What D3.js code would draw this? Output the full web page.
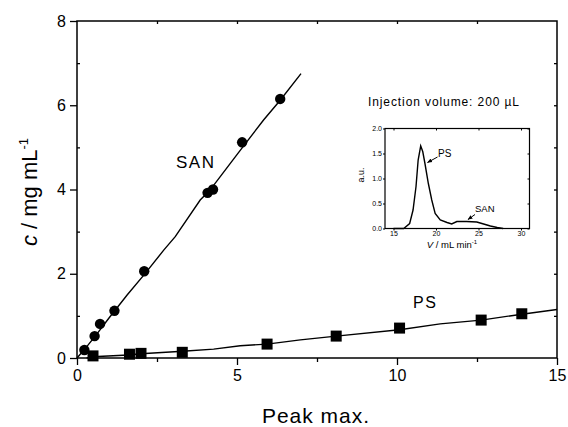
<!DOCTYPE html>
<html><head><meta charset="utf-8">
<script src="https://cdn.jsdelivr.net/npm/d3@7"></script>
<style>
body{margin:0;background:#fff;}
text{font-family:"Liberation Sans",Arial,sans-serif;fill:#000;}
</style></head>
<body><svg id="c" width="568" height="427"></svg>
<script>
// ---- data ----
const sanX = [0.23, 0.55, 0.72, 1.17, 2.1, 4.08, 4.25, 5.16, 6.35];
const sanY = [0.19, 0.52, 0.81, 1.12, 2.06, 3.92, 4.0, 5.12, 6.15];
const sanFitX = [0, 0.23, 0.6, 1.0, 1.56, 2.1, 2.71, 3.07, 3.85, 4.15, 5.1, 5.83, 6.35, 7.0];
const sanFitY = [0, 0.2, 0.55, 0.95, 1.49, 1.98, 2.56, 2.88, 3.75, 3.98, 4.93, 5.65, 6.12, 6.75];
const psX = [0.5, 1.64, 2.0, 3.29, 5.94, 8.1, 10.08, 12.63, 13.9];
const psY = [0.05, 0.09, 0.11, 0.135, 0.33, 0.52, 0.71, 0.90, 1.05];
const psFitX = [0.3, 0.5, 1.6, 2.0, 3.3, 4.27, 5.1, 5.94, 6.98, 8.1, 10.08, 11.35, 12.63, 13.9, 15];
const psFitY = [0, 0.03, 0.07, 0.1, 0.16, 0.21, 0.29, 0.33, 0.43, 0.52, 0.67, 0.81, 0.90, 1.04, 1.15];
const insetX = [15, 16.2, 16.9, 17.3, 17.65, 17.9, 18.2, 18.44, 18.7, 19.1, 19.5, 19.9, 20.5, 21.3, 21.85, 22.45, 23.6, 24.8, 25.6, 26.4, 27.2, 27.9];
const insetY = [0, 0, 0.1, 0.37, 0.84, 1.37, 1.65, 1.54, 1.3, 0.9, 0.57, 0.3, 0.17, 0.12, 0.09, 0.14, 0.14, 0.13, 0.09, 0.05, 0.02, 0];
const xTicks = [0, 5, 10, 15];
const yTicks = [0, 2, 4, 6, 8];
const insetXTicks = [15, 20, 25, 30];
const insetYTicks = [0, 0.5, 1.0, 1.5, 2.0];

const svg = d3.select("#c");
const x = d3.scaleLinear().domain([0, 15]).range([77, 557]);
const y = d3.scaleLinear().domain([0, 8]).range([358, 21]);

// axes
const gB = svg.append("g").attr("transform", "translate(0,358)")
  .call(d3.axisBottom(x).tickValues(xTicks).tickSize(7).tickPadding(5).tickFormat(d3.format("d")));
const gBm = svg.append("g").attr("transform", "translate(0,358)")
  .call(d3.axisBottom(x).tickValues([2.5, 7.5, 12.5]).tickSize(4).tickFormat(""));
const gL = svg.append("g").attr("transform", "translate(77,0)")
  .call(d3.axisLeft(y).tickValues(yTicks).tickSize(7).tickPadding(4).tickFormat(d3.format("d")));
const gLm = svg.append("g").attr("transform", "translate(77,0)")
  .call(d3.axisRight(y).tickValues([1, 3, 5, 7]).tickSize(3).tickFormat(""));
const gT = svg.append("g").attr("transform", "translate(0,21)")
  .call(d3.axisBottom(x).tickValues([2.5, 5, 7.5, 10, 12.5]).tickSize(3).tickFormat(""));
const gR = svg.append("g").attr("transform", "translate(557,0)")
  .call(d3.axisLeft(y).tickValues([1, 2, 3, 4, 5, 6, 7]).tickSize(3).tickFormat(""));
[gB, gBm, gL, gLm, gT, gR].forEach(g => {
  g.selectAll(".domain").remove();
  g.selectAll("line").attr("stroke", "#000").attr("stroke-width", 1.3);
  g.selectAll("text").style("font-size", "16px").attr("fill", "#000");
});
svg.append("rect").attr("x", 77).attr("y", 21).attr("width", 480).attr("height", 337)
  .attr("fill", "none").attr("stroke", "#000").attr("stroke-width", 1.5);

// fit lines
const line = d3.line().x(d => x(d[0])).y(d => y(d[1]));
svg.append("path").datum(sanFitX.map((v, i) => [v, sanFitY[i]]))
  .attr("d", line).attr("fill", "none").attr("stroke", "#000").attr("stroke-width", 1.4);
svg.append("path").datum(psFitX.map((v, i) => [v, psFitY[i]]))
  .attr("d", line).attr("fill", "none").attr("stroke", "#000").attr("stroke-width", 1.4);

// markers
svg.selectAll("circle.san").data(sanX.map((v, i) => [v, sanY[i]])).enter()
  .append("circle").attr("cx", d => x(d[0])).attr("cy", d => y(d[1])).attr("r", 5.2).attr("fill", "#000");
svg.selectAll("rect.ps").data(psX.map((v, i) => [v, psY[i]])).enter()
  .append("rect").attr("x", d => x(d[0]) - 5.5).attr("y", d => y(d[1]) - 5.5)
  .attr("width", 11).attr("height", 11).attr("fill", "#000");

// labels
svg.append("text").attr("x", 176).attr("y", 168).style("font-size", "17px").style("letter-spacing", "1.5px").text("SAN");
svg.append("text").attr("x", 413).attr("y", 308).style("font-size", "16px").style("letter-spacing", "1.5px").text("PS");
svg.append("text").attr("x", 368).attr("y", 105.5).style("font-size", "12px").style("letter-spacing", "0.9px")
  .text("Injection volume: 200 \u00B5L");

svg.append("text").attr("x", 316).attr("y", 423).attr("text-anchor", "middle")
  .style("font-size", "21px").style("letter-spacing", "1px").text("Peak max.");
const yl = svg.append("text").attr("transform", "translate(37,192) rotate(-90)").attr("text-anchor", "middle")
  .style("font-size", "22px");
yl.append("tspan").style("font-style", "italic").text("c");
yl.append("tspan").text(" / mg mL");
yl.append("tspan").attr("dy", -9).style("font-size", "13px").text("-1");

// ---- inset ----
const ix = d3.scaleLinear().domain([14, 31]).range([385, 529.5]);
const iy = d3.scaleLinear().domain([0, 2]).range([228.5, 128.5]);
const iB = svg.append("g").attr("transform", "translate(0,228.5)")
  .call(d3.axisBottom(ix).tickValues(insetXTicks).tickSize(2).tickPadding(1).tickFormat(d3.format("d")));
const iL = svg.append("g").attr("transform", "translate(385,0)")
  .call(d3.axisLeft(iy).tickValues(insetYTicks).tickSize(2).tickPadding(1).tickFormat(d3.format(".1f")));
const iT = svg.append("g").attr("transform", "translate(0,128.5)")
  .call(d3.axisBottom(ix).tickValues(insetXTicks).tickSize(2).tickFormat(""));
const iR = svg.append("g").attr("transform", "translate(529.5,0)")
  .call(d3.axisLeft(iy).tickValues(insetYTicks).tickSize(2).tickFormat(""));
[iB, iL, iT, iR].forEach(g => {
  g.selectAll(".domain").remove();
  g.selectAll("line").attr("stroke", "#000").attr("stroke-width", 1);
  g.selectAll("text").style("font-size", "7px").attr("fill", "#000");
});
svg.append("rect").attr("x", 385).attr("y", 128.5).attr("width", 144.5).attr("height", 100)
  .attr("fill", "none").attr("stroke", "#000").attr("stroke-width", 1.2);
const iline = d3.line().x(d => ix(d[0])).y(d => iy(d[1]));
svg.append("path").datum(insetX.map((v, i) => [v, insetY[i]]))
  .attr("d", iline).attr("fill", "none").attr("stroke", "#000").attr("stroke-width", 1.4);

// inset annotations
svg.append("defs").append("marker").attr("id", "ah").attr("viewBox", "0 0 10 10")
  .attr("refX", 9).attr("refY", 5).attr("markerWidth", 5).attr("markerHeight", 5).attr("orient", "auto")
  .append("path").attr("d", "M0,1 L10,5 L0,9 Z").attr("fill", "#000");
svg.append("line").attr("x1", 437.5).attr("y1", 157).attr("x2", 427.5).attr("y2", 162.5)
  .attr("stroke", "#000").attr("stroke-width", 1).attr("marker-end", "url(#ah)");
svg.append("line").attr("x1", 475).attr("y1", 214.5).attr("x2", 468).attr("y2", 219.5)
  .attr("stroke", "#000").attr("stroke-width", 1).attr("marker-end", "url(#ah)");
svg.append("text").attr("x", 438).attr("y", 157).style("font-size", "10px").text("PS");
svg.append("text").attr("x", 475).attr("y", 212).style("font-size", "9.5px").text("SAN");
const ixl = svg.append("text").attr("x", 452).attr("y", 248).attr("text-anchor", "middle").style("font-size", "9.5px");
ixl.append("tspan").style("font-style", "italic").text("V");
ixl.append("tspan").text(" / mL min");
ixl.append("tspan").attr("dy", -4).style("font-size", "6px").text("-1");
svg.append("text").attr("transform", "translate(364,175) rotate(-90)").attr("text-anchor", "middle")
  .style("font-size", "9px").text("a.u.");
</script></body></html>
